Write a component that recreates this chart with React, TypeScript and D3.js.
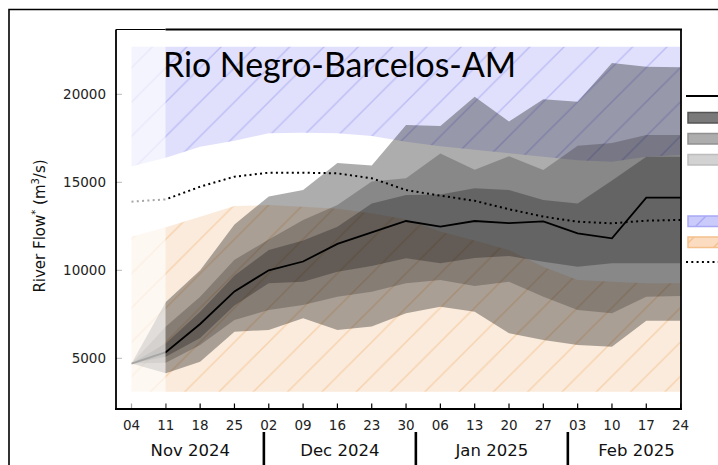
import React from 'react';
import * as d3 from 'd3';

const dates = [
  '2024-11-04', '2024-11-11', '2024-11-18', '2024-11-25', '2024-12-02', '2024-12-09',
  '2024-12-16', '2024-12-23', '2024-12-30', '2025-01-06', '2025-01-13', '2025-01-20',
  '2025-01-27', '2025-02-03', '2025-02-10', '2025-02-17', '2025-02-24',
];
const tickLabels = ['04', '11', '18', '25', '02', '09', '16', '23', '30', '06', '13', '20', '27', '03', '10', '17', '24'];
const monthLabels = ['Nov 2024', 'Dec 2024', 'Jan 2025', 'Feb 2025'];
const monthBounds = ['2024-11-01', '2024-12-01', '2025-01-01', '2025-02-01', '2025-03-01'];
const yTicks = [5000, 10000, 15000, 20000];

// forecast median / observed
const median = [4700, 5350, 6950, 8800, 10000, 10500, 11500, 12150, 12800, 12480, 12800, 12680, 12780, 12100, 11820, 14130, 14130];
// climatological median (dotted)
const climMedian = [13900, 14030, 14750, 15320, 15545, 15545, 15510, 15230, 14560, 14240, 13950, 13470, 13050, 12760, 12670, 12820, 12860];
// upper / lower normal limits
const upperNormal = [15900, 16400, 17020, 17360, 17780, 17820, 17780, 17630, 17300, 17050, 16850, 16650, 16450, 16250, 16170, 16450, 16550];
const lowerNormal = [11900, 12450, 13040, 13650, 13710, 13610, 13500, 13240, 12900, 12200, 11700, 11150, 10200, 9450, 9350, 9260, 9260];
const aboveNormalTop = 22700;
const belowNormalBottom = 3100;
// forecast bands
const outerTop = [4700, 8200, 10000, 12600, 14200, 14560, 16100, 15950, 18250, 18200, 19860, 18450, 19720, 19580, 21780, 21570, 21530];
const midTop = [4700, 6800, 8500, 10600, 11750, 12860, 13710, 15040, 15230, 16630, 15720, 16480, 15700, 17070, 17230, 17690, 17690];
const innerTop = [4700, 5850, 7650, 9700, 11150, 11700, 12480, 13800, 14280, 14300, 14660, 14560, 14000, 13790, 15100, 16455, 16455];
const innerBottom = [4700, 5090, 6150, 8000, 9260, 9350, 9920, 10240, 10680, 10400, 10700, 10810, 10490, 10200, 10400, 10400, 10400];
const midBottom = [4700, 4750, 5750, 7180, 7740, 8030, 8500, 8780, 9260, 9450, 9110, 9350, 8500, 7740, 7560, 8500, 8540];
const outerBottom = [4700, 4150, 4800, 6510, 6610, 7270, 6610, 6800, 7560, 7930, 7650, 6420, 6040, 5760, 5660, 7140, 7140];

export default function App() {
  const parse = d3.utcParse('%Y-%m-%d');
  const dts = dates.map((d) => parse(d) as Date);
  const mb = monthBounds.map((d) => parse(d) as Date);
  const x = d3.scaleUtc().domain([dts[0], dts[dts.length - 1]]).range([131.5, 680.6]);
  const y = d3.scaleLinear().domain([5000, 20000]).range([358.3, 94.3]);
  const L = 116, R = 681, T = 29.5, B = 409;
  const idx = d3.range(dates.length);
  const area = (lo: (i: number) => number, hi: (i: number) => number) =>
    d3.area<number>().x((i) => x(dts[i])).y0((i) => y(lo(i))).y1((i) => y(hi(i)))(idx) as string;
  const line = (v: number[]) => d3.line<number>().x((i) => x(dts[i])).y((i) => y(v[i]))(idx) as string;
  const s = 34.3;
  const hatchPath = `M0,${s} L${s},0 M-2,2 L2,-2 M${s - 2},${s + 2} L${s + 2},${s - 2}`;
  const tickFont = 'DejaVu Sans, sans-serif';
  const overlayRight = x(dts[1]) - 0.3;

  return (
    <svg width={718} height={465} style={{ position: 'absolute', left: 0, top: 0, background: '#fff' }}>
      <defs>
        <pattern id="hBlue" patternUnits="userSpaceOnUse" width={s} height={s} x={27.8}>
          <rect width={s} height={s} fill="#e0e0fc" />
          <path d={hatchPath} stroke="#bcbcf5" strokeWidth={1.4} />
        </pattern>
        <pattern id="hOrange" patternUnits="userSpaceOnUse" width={s} height={s} x={27.8}>
          <rect width={s} height={s} fill="#fbebdc" />
          <path d={hatchPath} stroke="#f6d2ad" strokeWidth={1.4} />
        </pattern>
        <pattern id="lBlue" patternUnits="userSpaceOnUse" width={30} height={30} x={690} y={202}>
          <rect width={30} height={30} fill="#cacafb" />
          <path d="M0,30 L30,0" stroke="#a8a8f5" strokeWidth={1.4} />
        </pattern>
        <pattern id="lOrange" patternUnits="userSpaceOnUse" width={30} height={30} x={708} y={223}>
          <rect width={30} height={30} fill="#fcdcc0" />
          <path d="M0,30 L30,0" stroke="#f4c08c" strokeWidth={1.4} />
        </pattern>
      </defs>

      {/* outer frame */}
      <path d="M9,465 L9,9.5 L718,9.5" fill="none" stroke="#000" strokeWidth={1.6} />

      {/* category regions */}
      <path d={area(() => aboveNormalTop, (i) => upperNormal[i])} fill="url(#hBlue)" />
      <path d={area(() => belowNormalBottom, (i) => lowerNormal[i])} fill="url(#hOrange)" />

      {/* forecast bands */}
      <path d={area((i) => outerBottom[i], (i) => outerTop[i])} fill="#000" fillOpacity={0.32} />
      <path d={area((i) => midBottom[i], (i) => midTop[i])} fill="#000" fillOpacity={0.21} />
      <path d={area((i) => innerBottom[i], (i) => innerTop[i])} fill="#000" fillOpacity={0.26} />

      {/* lines */}
      <path d={line(climMedian)} fill="none" stroke="#000" strokeWidth={2} strokeDasharray="2,3.3" />
      <path d={line(median)} fill="none" stroke="#000" strokeWidth={1.8} />

      {/* ticks */}
      {yTicks.map((v) => (
        <line key={v} x1={L} x2={L + 6} y1={y(v)} y2={y(v)} stroke="#333" strokeWidth={1} />
      ))}
      {dts.map((d, i) => (
        <line key={i} x1={x(d)} x2={x(d)} y1={B} y2={B - 5.5} stroke="#000" strokeWidth={1.2} />
      ))}

      {/* observed-period overlay */}
      <rect x={L + 1} y={30.5} width={overlayRight - L - 1} height={B - 31.5} fill="#fff" fillOpacity={0.65} />

      {/* spines */}
      <line x1={L} x2={overlayRight} y1={T} y2={T} stroke="#000" strokeWidth={1} />
      <line x1={overlayRight} x2={R + 1} y1={T} y2={T} stroke="#000" strokeWidth={2} />
      <line x1={L} x2={L} y1={T} y2={B + 1} stroke="#000" strokeWidth={1.8} />
      <line x1={R} x2={R} y1={T} y2={B + 1} stroke="#000" strokeWidth={1.8} />
      <line x1={L - 1} x2={R + 1} y1={B} y2={B} stroke="#000" strokeWidth={2} />

      {/* y tick labels */}
      {yTicks.map((v) => (
        <text key={v} x={106} y={y(v) + 5} textAnchor="end" fontFamily={tickFont} fontSize={13.5} fill="#222">
          {v}
        </text>
      ))}
      {/* x tick labels */}
      {dts.map((d, i) => (
        <text key={i} x={x(d)} y={430} textAnchor="middle" fontFamily={tickFont} fontSize={13.5} fill="#222">
          {tickLabels[i]}
        </text>
      ))}
      {/* months */}
      {monthLabels.map((m, i) => (
        <text key={m} x={(x(mb[i]) + x(mb[i + 1])) / 2} y={456} textAnchor="middle" fontFamily={tickFont} fontSize={16.5} fill="#111">
          {m}
        </text>
      ))}
      {mb.slice(1, 4).map((d, i) => (
        <line key={i} x1={x(d)} x2={x(d)} y1={432} y2={465} stroke="#000" strokeWidth={2.6} />
      ))}

      {/* y label */}
      <text transform="translate(45,226) rotate(-90)" textAnchor="middle" fontFamily={tickFont} fontSize={15} fill="#111">
        River Flow
        <tspan dy={-6} fontSize={10}>*</tspan>
        <tspan dy={6}> (m</tspan>
        <tspan dy={-6} fontSize={10}>3</tspan>
        <tspan dy={6}>/s)</tspan>
      </text>

      {/* title */}
      <text x={163} y={77} fontFamily="Lato, 'Liberation Sans', sans-serif" fontSize={33.8} fill="#000">
        Rio Negro-Barcelos-AM
      </text>

      {/* legend (clipped by page edge) */}
      <line x1={686} x2={720} y1={96} y2={96} stroke="#000" strokeWidth={2} />
      <rect x={688} y={112.5} width={33} height={10.5} fill="#7a7a7a" stroke="#555" strokeWidth={1.5} />
      <rect x={688} y={133.5} width={33} height={10.5} fill="#adadad" stroke="#919191" strokeWidth={1.5} />
      <rect x={688} y={154.5} width={33} height={10.5} fill="#d2d2d2" stroke="#bdbdbd" strokeWidth={1.5} />
      <rect x={688} y={216} width={33} height={10.5} fill="url(#lBlue)" stroke="#a8a8f5" strokeWidth={1.5} />
      <rect x={688} y={237} width={33} height={10.5} fill="url(#lOrange)" stroke="#f4c08c" strokeWidth={1.5} />
      <line x1={686} x2={720} y1={262} y2={262} stroke="#000" strokeWidth={2} strokeDasharray="2,3.3" />
    </svg>
  );
}
